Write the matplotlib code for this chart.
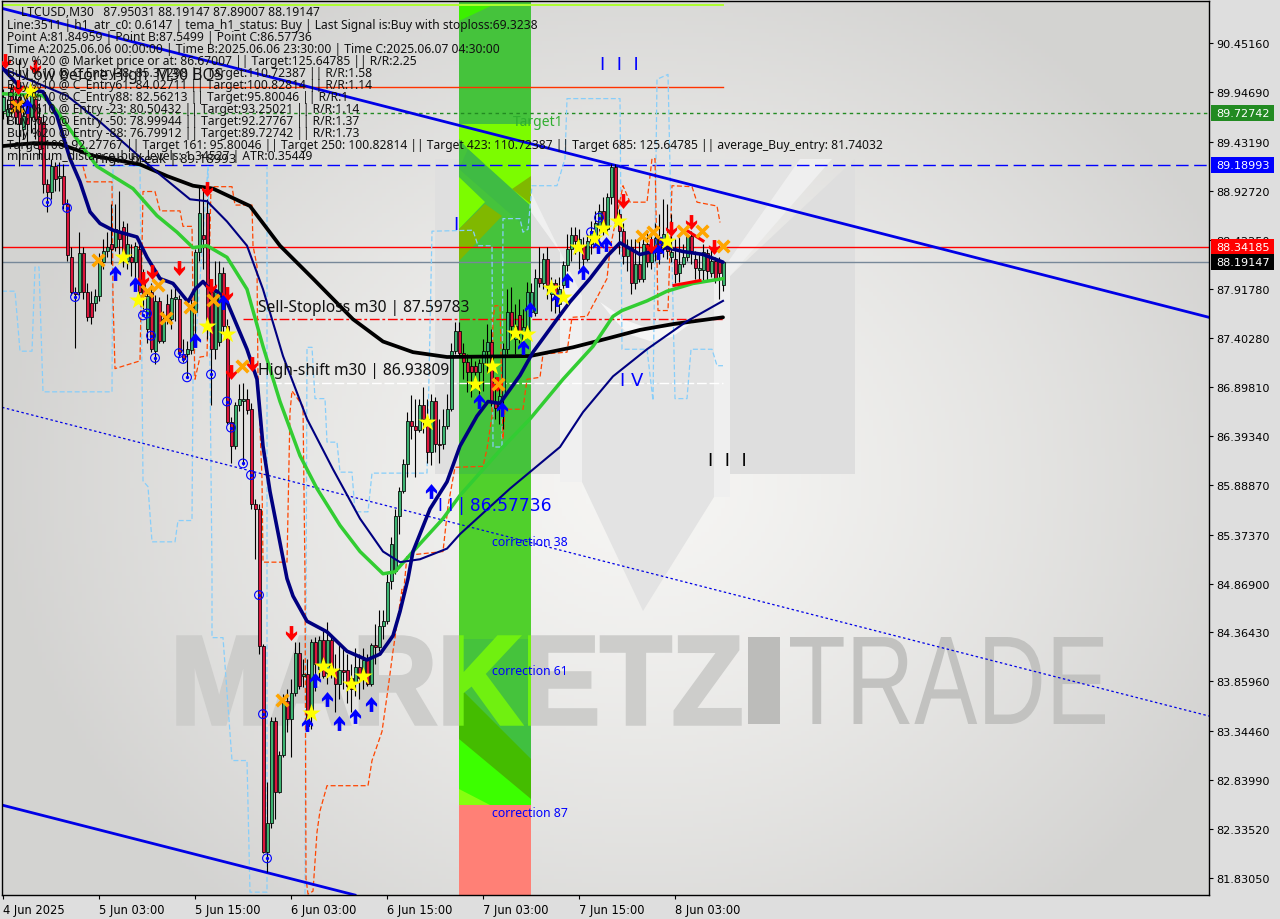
import numpy as np
import matplotlib
matplotlib.use("Agg")
import matplotlib.pyplot as plt
from matplotlib.patches import Rectangle, Polygon, PathPatch
from matplotlib.path import Path
from matplotlib.textpath import TextPath
from matplotlib.font_manager import FontProperties
from matplotlib.transforms import Affine2D

# ---------- price data (30 minute bars) ----------
opens = [89.75,89.70,89.98,89.88,89.90,89.57,89.83,89.69,89.88,89.69,
 89.64,89.00,88.92,89.18,89.06,89.08,88.79,88.24,87.88,87.88,
 88.28,87.88,87.77,87.77,87.84,88.19,88.31,88.38,88.35,88.51,
 88.55,88.20,88.24,88.19,88.33,87.97,87.50,87.88,87.27,87.79,
 87.38,87.76,87.60,87.81,87.81,87.24,87.24,87.28,87.68,88.30,
 88.47,88.70,87.88,87.29,87.37,88.08,87.53,86.54,86.29,86.71,
 86.76,86.78,86.67,85.69,85.64,84.22,82.10,82.39,83.45,82.72,
 83.10,83.66,83.47,83.74,84.15,83.91,83.93,83.54,84.27,83.99,
 84.29,83.94,84.29,83.99,83.83,83.98,83.98,83.89,83.85,84.01,
 83.89,84.08,83.83,84.23,84.21,84.43,84.48,84.90,85.00,85.57,
 85.83,86.10,86.55,86.50,86.46,86.71,86.57,86.23,86.76,86.31,
 86.31,86.50,86.67,87.27,87.48,87.25,87.16,87.12,87.12,87.06,
 87.15,87.27,87.37,86.75,86.68,86.81,87.29,87.68,87.40,87.64,
 87.40,87.50,87.68,87.66,88.03,87.97,88.22,87.86,87.97,87.76,
 87.95,88.16,88.33,88.47,88.33,88.36,88.22,88.38,88.43,88.55,
 88.72,88.53,88.86,89.17,88.69,88.51,88.25,88.35,87.97,88.17,
 88.02,88.38,88.19,88.30,88.44,88.38,88.43,88.24,88.22,88.08,
 88.17,88.24,88.46,88.22,88.11,88.11,88.28,88.08,88.20,88.19,87.95]
highs = [89.98,89.88,90.03,89.96,90.29,89.83,89.98,90.03,89.98,89.83,
 89.72,89.05,89.26,89.23,89.23,89.20,88.84,88.35,87.93,88.50,
 88.35,87.97,87.89,87.91,88.28,88.43,88.50,88.79,88.79,88.93,
 88.62,88.59,88.38,88.40,88.38,88.12,87.91,87.97,87.85,87.83,
 87.69,87.86,87.91,87.93,87.85,87.40,87.38,87.81,88.33,88.98,
 88.98,88.84,87.97,88.20,88.20,88.14,87.60,86.59,86.75,86.93,
 86.94,86.88,86.73,85.74,85.69,84.24,82.82,83.49,83.49,83.14,
 83.73,83.78,83.88,84.27,84.27,84.09,84.09,84.30,84.32,84.33,
 84.38,84.47,84.35,84.14,84.25,84.20,84.14,84.04,84.20,84.14,
 84.20,84.14,84.25,84.45,84.60,84.60,84.97,85.35,85.64,85.87,
 86.16,86.64,86.82,86.78,86.78,86.90,86.78,86.83,86.80,86.57,
 86.67,86.83,87.35,87.57,87.57,87.35,87.24,87.21,87.17,87.19,
 87.40,87.55,87.50,87.00,86.93,87.35,87.91,87.93,87.76,87.81,
 87.71,87.99,87.97,88.12,88.35,88.28,88.35,88.04,88.02,88.04,
 88.20,88.48,88.55,88.55,88.53,88.45,88.48,88.62,88.72,88.79,
 88.86,88.90,89.20,89.20,88.74,88.59,88.43,88.43,88.43,88.43,
 88.45,88.51,88.51,88.59,88.69,88.84,88.79,88.69,88.43,88.45,
 88.38,88.48,88.51,88.31,88.28,88.38,88.33,88.33,88.24,88.24,88.19]
lows = [89.67,89.62,89.69,89.62,89.18,89.46,89.36,89.52,89.46,89.26,
 88.90,88.71,88.84,88.93,88.93,88.74,88.20,87.85,87.30,87.85,
 87.81,87.58,87.55,87.69,87.79,88.12,88.24,88.17,88.31,88.27,
 88.14,88.12,88.05,88.02,87.81,87.71,87.35,87.26,87.14,87.35,
 87.35,87.55,87.50,87.58,87.21,87.16,87.00,87.24,87.45,88.20,
 88.12,87.40,86.71,87.19,87.32,87.45,86.52,86.11,86.26,86.65,
 86.09,86.62,85.64,85.12,84.14,82.08,81.89,82.34,82.44,82.70,
 83.08,83.34,83.08,83.71,83.78,83.80,83.35,83.37,83.76,83.89,
 83.89,83.83,83.89,83.54,83.68,83.78,83.63,83.54,83.71,83.68,
 83.78,83.81,83.81,84.04,84.17,84.30,84.45,84.81,84.97,85.38,
 85.80,85.97,86.36,85.97,86.44,86.42,86.11,86.09,86.23,86.11,
 86.26,86.47,86.65,87.24,87.21,86.98,86.85,86.80,86.95,86.83,
 86.86,87.04,86.70,86.57,86.52,86.47,87.24,87.40,87.24,87.35,
 87.35,87.47,87.62,87.63,87.93,87.91,87.81,87.69,87.66,87.66,
 87.91,88.10,88.20,88.27,88.12,88.10,88.20,88.27,88.38,88.43,
 88.47,88.51,88.79,88.59,88.27,88.17,88.10,87.86,87.91,87.99,
 87.99,88.14,88.12,88.20,88.17,88.24,88.22,88.19,87.97,87.99,
 88.14,88.20,88.17,88.02,87.99,88.00,88.00,88.04,87.97,87.81,87.89]
closes = [89.90,89.77,89.77,89.69,89.62,89.70,89.62,89.93,89.67,89.36,
 89.00,88.92,89.18,89.05,89.08,88.79,88.26,87.88,87.86,88.28,
 87.88,87.62,87.62,87.84,88.19,88.31,88.35,88.33,88.53,88.43,
 88.22,88.38,88.19,88.36,87.88,87.84,87.84,87.29,87.79,87.38,
 87.60,87.60,87.82,87.83,87.26,87.19,87.29,87.74,88.30,88.70,
 88.43,87.53,87.29,87.88,88.08,87.53,86.54,86.29,86.71,86.78,
 86.78,86.66,85.69,85.64,84.22,82.10,82.39,83.45,82.72,83.10,
 83.66,83.47,83.74,84.15,83.81,83.93,83.40,84.27,84.04,84.29,
 83.91,84.29,83.99,83.83,83.98,83.96,83.81,83.78,84.01,83.89,
 84.08,83.83,84.23,84.21,84.43,84.48,84.89,85.28,85.57,85.83,
 86.10,86.55,86.50,86.46,86.71,86.57,86.23,86.76,86.31,86.30,
 86.50,86.67,87.27,87.48,87.25,87.16,87.05,87.05,87.06,87.15,
 87.27,87.37,86.75,86.68,86.81,87.29,87.68,87.53,87.53,87.48,
 87.52,87.88,87.88,88.03,87.97,88.22,87.95,87.97,87.81,87.91,
 88.16,88.33,88.47,88.41,88.43,88.22,88.41,88.51,88.59,88.72,
 88.53,88.86,89.17,88.64,88.51,88.25,88.35,87.97,88.17,88.02,
 88.38,88.19,88.30,88.44,88.28,88.48,88.31,88.30,88.07,88.17,
 88.24,88.46,88.31,88.13,88.13,88.30,88.10,88.20,88.02,88.08,88.19]

# ---------- indicator lines ----------
tema_x = [0,4.25,10,13.5,16.75,19.25,21.75,24.25,27.5,33.5,36,39.25,42.5,46.25,48,50,51.25,53.5,56,61,63.5,65,66.75,71,72.5,76,81,86,91,94.25,97.5,99.25,101.25,102.5,106.75,111,114.25,118.5,121.25,124.25,129.25,132.5,138.5,141.75,146.75,151,154.25,159.25,162.5,166,170,175,180]
tema_y = [90.19,90.00,89.95,89.70,89.26,89.02,88.71,88.59,88.52,88.45,88.24,88.02,87.97,87.78,87.91,87.99,87.93,87.89,87.78,87.29,86.98,86.29,85.82,84.92,84.74,84.48,84.37,84.17,84.08,84.14,84.33,84.58,84.92,85.20,85.64,85.92,86.29,86.60,86.75,86.73,87.02,87.26,87.60,87.78,88.02,88.25,88.39,88.27,88.30,88.34,88.30,88.27,88.19]
ma_green_x = [0,10,13.5,18.5,23.5,32.5,38.5,43.5,47.5,51,56,61,65,69.25,74.25,78.5,84.25,89.25,95,98,102.5,110,114.25,125,131.75,140,147.5,152.5,154.75,161,166,172.5,180]
ma_green_y = [89.93,89.91,89.75,89.46,89.18,88.95,88.67,88.50,88.34,88.36,88.24,87.91,87.32,86.75,86.19,85.85,85.47,85.20,84.97,84.99,85.20,85.54,85.78,86.28,86.57,86.98,87.32,87.63,87.69,87.79,87.89,87.97,88.02]
ma_black_x = [0,7.75,14.25,22.5,34.25,41,47.5,52.5,61.75,69.25,77.5,87.5,95,102.5,111,131.75,142.5,151,159.25,167.5,180]
ma_black_y = [89.39,89.42,89.41,89.29,89.20,89.08,88.98,88.95,88.77,88.36,88.02,87.60,87.37,87.26,87.21,87.22,87.31,87.40,87.49,87.55,87.62]
ma_thin_x = [0,16,24.25,38.5,46.75,51,56,61,65,70,76,82.5,89.25,95,99.25,104.25,111,114.25,126.75,139.25,145,152.5,161,171,180]
ma_thin_y = [90.19,89.91,89.64,89.12,88.84,88.82,88.61,88.36,87.91,87.22,86.57,86.05,85.54,85.20,85.09,85.12,85.23,85.38,85.85,86.28,86.64,87.01,87.29,87.58,87.79]
step_red_x = [20,21,27.25,27.5,28,34.25,35,38,39.25,44.25,45,47.25,47.5,48,49.25,51,52,57.25,58,62.25,62.5,63.5,63.75,64.75,65,71,71.75,72.25,75,75.5,75.75,76.25,77.5,78.5,79.25,81,91.25,92.25,94.75,96.25,97.5,99.75,100,101,110,111.25,113,120,121,122.25,122.5,123,124.25,125,125.5,130,131,134.25,135,141,142.25,146,151,151.75,155,156.75,161,162.25,163,163.75,166.25,167.25,172.25,173.5,178.5,179.25]
step_red_y = [89.18,89.02,89.02,87.81,87.09,87.17,88.92,88.92,88.72,88.72,88.56,88.56,87.81,86.98,87.21,87.22,88.97,88.97,88.78,88.78,88.36,88.15,86.98,85.95,85.09,85.09,86.64,86.86,86.70,84.95,81.82,81.66,81.69,82.30,82.52,82.78,82.78,83.04,83.34,83.78,84.17,84.81,84.71,85.16,85.20,85.67,86.07,86.08,86.26,86.60,87.60,87.74,87.74,86.36,86.67,86.67,86.98,87.00,87.24,87.26,87.62,87.63,88.02,88.33,88.98,88.81,88.81,89.26,89.26,87.69,87.69,88.98,88.97,88.81,88.77,88.60]
step_blue_x = [-0.25,3,4.25,7.25,8,9,10,27.25,27.5,34.25,35,36.25,37.25,43,43.75,47.25,47.5,51.25,52.25,52.25,55,57.25,61,61.75,66,66,np.nan,75.5,76,77.25,78,80.5,81,83.5,84.25,87.25,88,91.25,92.25,106,107.25,117.5,118.75,122.25,122.5,124.75,125,129.25,130,131.25,132.25,138.5,140.5,141,154.25,154.75,161,162.5,163.5,166.25,168,171,172,177.25,178.5,180]
step_blue_y = [87.89,87.89,87.27,87.27,88.14,88.14,86.85,86.85,89.18,89.18,85.93,85.87,85.30,85.30,85.52,85.52,86.98,89.18,84.99,84.31,84.31,83.04,83.04,81.68,81.68,89.18,np.nan,81.66,87.31,87.31,86.78,86.78,86.33,86.33,86.02,86.02,85.61,85.61,86.01,86.01,88.51,88.52,88.36,88.36,86.28,86.28,88.64,88.64,88.50,88.53,88.98,88.98,89.26,89.88,89.88,87.29,87.29,86.76,90.08,90.13,86.78,86.78,87.29,87.29,87.12,87.12]

# trend lines
trend_up_x, trend_up_y = [0, 301.5], [90.81, 87.62]
trend_low_x, trend_low_y = [-0.25, 88], [82.58, 81.65]
trend_dot_x, trend_dot_y = [-0.25, 301.5], [86.69, 83.50]
wedge1_x, wedge1_y = [167.75, 174.25], [87.95, 88.00]
wedge2_x, wedge2_y = [171.25, 175], [88.51, 88.41]

# levels
level_target = 89.72742
level_high = 89.18993
level_red = 88.34185
level_last = 88.19147
level_sl = 87.59783
level_shift = 86.93809
level_top = 90.85
level_upper = 90.00

# signal markers
star_x = [6.75,30,33.75,51,56,77,80,82,87,90,106,118,122.25,128,131,137,140,143.75,147.75,150,153.75,166]
star_y = [89.96,88.24,87.80,87.53,87.45,83.53,84.02,83.97,83.83,83.91,86.54,86.93,87.12,87.46,87.45,87.92,87.83,88.35,88.44,88.54,88.62,88.41]
cross_x = [3.5,6.75,23.75,36,38.75,40.75,46.75,52.5,59.75,69.75,123.75,159.75,162.5,170,174.75,180]
cross_y = [89.80,89.95,88.21,87.89,87.95,87.61,87.73,87.80,87.12,83.67,86.93,88.46,88.50,88.51,88.51,88.36]
down_x = [0.5,3.75,8,35,37.25,44,51,52,56,57,62.25,72,123.5,155,162,167,172,177.75]
down_y = [90.27,90.00,90.21,88.02,88.09,88.13,88.95,87.94,87.86,87.06,87.14,84.36,86.93,88.82,88.36,88.53,88.60,88.35]
up_x = [6,28,33,48,55,76,78,81,84,88,92,107,119,124.75,130,131.75,138.5,141,145,148.75,150.75,163.75]
up_y = [89.80,88.08,87.96,87.39,87.78,83.42,83.87,83.68,83.43,83.50,83.62,85.83,86.76,86.67,87.31,87.71,87.81,88.01,88.09,88.36,88.38,88.30]
circle_x = [11,16,18,35,36,37,38,44,45,46,52,56,57,60,62,64,65,66,147,149,164.25]
circle_y = [88.81,88.75,87.83,87.64,87.66,87.43,87.20,87.25,87.19,87.00,87.03,86.75,86.48,86.11,85.99,84.75,83.52,82.03,88.50,88.65,88.40]

# axis labels
ytick_vals = [90.45160,89.94690,89.43190,88.92720,88.42250,87.91780,87.40280,86.89810,86.39340,85.88870,85.37370,84.86900,84.36430,83.85960,83.34460,82.83990,82.33520,81.83050]
xtick_bars = [0,24,48,72,96,120,144,168]
xtick_labels = ["4 Jun 2025","5 Jun 03:00","5 Jun 15:00","6 Jun 03:00","6 Jun 15:00","7 Jun 03:00","7 Jun 15:00","8 Jun 03:00"]

info_lines = [
 "Line:3511 | h1_atr_c0: 0.6147 | tema_h1_status: Buy | Last Signal is:Buy with stoploss:69.3238",
 "Point A:81.84959 | Point B:87.5499 | Point C:86.57736",
 "Time A:2025.06.06 00:00:00 | Time B:2025.06.06 23:30:00 | Time C:2025.06.07 04:30:00",
 "Buy %20 @ Market price or at: 86.67007 || Target:125.64785 || R/R:2.25",
 "Buy %10 @ C_Entry38: 85.37298 || Target:110.72387 || R/R:1.58",
 "Buy %10 @ C_Entry61: 84.02711 || Target:100.82814 || R/R:1.14",
 "Buy %10 @ C_Entry88: 82.56213 || Target:95.80046 || R/R:1",
 "Buy %10 @ Entry -23: 80.50432 || Target:93.25021 || R/R:1.14",
 "Buy %20 @ Entry -50: 78.99944 || Target:92.27767 || R/R:1.37",
 "Buy %20 @ Entry -88: 76.79912 || Target:89.72742 || R/R:1.73",
 "Target100: 92.27767 || Target 161: 95.80046 || Target 250: 100.82814 || Target 423: 110.72387 || Target 685: 125.64785 || average_Buy_entry: 81.74032",
 "minimum_distance_buy_levels: 1.34527 | ATR:0.35449",
]

# ---------- figure ----------
W, H = 1280, 920
fig = plt.figure(figsize=(W/100, H/100), dpi=100, facecolor="#dedede")
L, R, T, B = 2, 1209, 2, 896
ax = fig.add_axes([L/W, 1-B/H, (R-L)/W, (B-T)/H])
XMIN, XMAX, YMIN, YMAX = -0.25, 301.5, 81.6506, 90.8887

# screen-pixel transform for the decorative backdrop image parts
deco = Affine2D().scale(1, -1).translate(0, H)
def poly(pts, color, z=0.5, **kw):
    p = Polygon(pts, closed=True, facecolor=color, edgecolor="none", transform=deco, zorder=z, **kw)
    ax.add_patch(p)
    return p

def fitted_glyphs(s, x0, x1, ytop, ybot, color, z, weight="normal", stroke=0.0):
    fp = FontProperties(family="Liberation Sans", weight=weight)
    tp = TextPath((0, 0), s, size=100, prop=fp)
    e = tp.get_extents()
    tr = (Affine2D().translate(-e.x0, -e.y0)
          .scale((x1-x0)/e.width, -(ybot-ytop)/e.height)
          .translate(x0, ybot) + deco)
    p = PathPatch(tp, facecolor=color, edgecolor=color if stroke else "none", linewidth=stroke, transform=tr, zorder=z)
    ax.add_patch(p)
    return p

# backdrop radial gradient
yy, xx = np.mgrid[T:B:4, L:R:4]
r = np.clip(np.hypot((xx-640)/640, (yy-480)/560), 0, 1)
bg = (0.965 - 0.135*r**1.3)
rgb = np.dstack([bg, bg*0.998, bg*0.99])
ax.imshow(rgb, extent=[0,1,0,1], transform=ax.transAxes, aspect="auto", zorder=0, origin="upper")

# logo backdrop
poly([(435,160),(493,160),(560,253),(560,475),(435,475)], "#dfdfdf", 0.3)
poly([(730,277),(855,160),(855,475),(730,475)], "#dedede", 0.3)
poly([(515,160),(800,160),(714,283),(714,498),(643,612),(582,483),(582,297)], "#e3e3e3", 0.3)
poly([(493,160),(515,160),(582,297),(582,483),(560,483),(560,253)], "#f0f0f0", 0.31)
poly([(800,160),(832,160),(730,277),(730,498),(714,498),(714,283)], "#efefef", 0.31)
poly([(600,303),(612,318),(628,335),(650,342),(672,338),(690,325),(700,312),(692,325),(672,328),(650,330),(628,322)], "#f6f6f6", 0.33)

fitted_glyphs("MARKETZ", 178, 740, 638, 725, "#cdcdcb", 0.6, "bold", stroke=2.5)
ax.add_patch(Rectangle((748,638),32,87, facecolor="#bcbcba", edgecolor="none", transform=deco, zorder=0.6))
fitted_glyphs("TRADE", 790, 1105, 638, 725, "#c2c2c0", 0.6)

# green zone
zone = Rectangle((459,3),72,803, facecolor="#45c33c", edgecolor="none", transform=deco, zorder=1)
ax.add_patch(zone)
poly([(459,475),(531,475),(531,640),(459,640)], "#50d02c", 1.02)
poly([(459,725),(531,725),(531,775),(459,730)], "#40c040", 1.03)
poly([(459,5),(495,5),(459,22)], "#3cf000", 1.05)
poly([(459,125),(531,125),(531,210),(468,150),(459,140)], "#7cfc00", 1.1)
poly([(531,177),(512,190),(531,205)], "#80b800", 1.12)
poly([(459,170),(468,150),(531,207),(531,233)], "#3fbb44", 1.13)
poly([(459,178),(485,203),(459,230)], "#7cfc00", 1.14)
poly([(459,230),(485,205),(502,217),(459,262)], "#80b800", 1.14)
poly([(459,688),(531,760),(531,802),(459,745)], "#44bc00", 1.2)
poly([(459,740),(531,800),(531,806),(459,806)], "#3cff00", 1.21)
poly([(459,790),(490,806),(459,806)], "#86ff10", 1.22)
ax.add_patch(Rectangle((459,806),72,90, facecolor="#ff8076", edgecolor="none", transform=deco, zorder=1.3))
k_g = fitted_glyphs("MARKETZ", 178, 740, 638, 725, "#70f010", 1.25, "bold", stroke=2.5)
k_g.set_clip_path(zone)

# levels
LW = 1.0
ax.axhline(level_target, color="#228b22", lw=LW, ls=(0,(2.5,2.5)), zorder=2)
ax.axhline(level_high, color="#0000ff", lw=LW, ls=(0,(9,4)), zorder=2)
ax.axhline(level_red, color="#ff0000", lw=LW, zorder=2)
ax.axhline(level_last, color="#778899", lw=LW, zorder=2)
ax.plot([60,180],[level_sl,level_sl], color="#ff0000", lw=LW, ls=(0,(7,2,2,2)), zorder=2)
ax.plot([64,180],[level_shift,level_shift], color="#ffffff", lw=LW, ls=(0,(7,2)), zorder=2)
ax.plot([0,180],[level_top,level_top], color="#adff2f", lw=1.4, zorder=2)
ax.plot([0,180],[level_upper,level_upper], color="#ff3300", lw=LW, zorder=2)

# step lines
ax.plot(step_blue_x, step_blue_y, color="#87cefa", lw=0.9, ls=(0,(4,2)), zorder=2.2)
ax.plot(step_red_x, step_red_y, color="#ff4500", lw=0.9, ls=(0,(4,2)), zorder=2.2)

# trend lines
ax.plot(trend_up_x, trend_up_y, color="#0000e6", lw=2.0, zorder=2.5)
ax.plot(trend_low_x, trend_low_y, color="#0000e6", lw=2.0, zorder=2.5)
ax.plot(trend_dot_x, trend_dot_y, color="#0000e6", lw=0.9, ls=(0,(2,2)), zorder=2.5)

# candles
o, h, l, c = map(np.array, (opens, highs, lows, closes))
idx = np.arange(len(o))
ax.vlines(idx, l, h, color="black", lw=0.8, zorder=3)
cols = np.where(c >= o, "#3cb371", "#dc143c")
ax.bar(idx, np.maximum(np.abs(c-o), 0.01), bottom=np.minimum(o, c), width=0.75, color=cols, edgecolor="black", linewidth=0.55, zorder=3.1)

# moving averages
ax.plot(ma_black_x, ma_black_y, color="#000000", lw=2.7, zorder=4, solid_capstyle="round")
ax.plot(ma_green_x, ma_green_y, color="#32cd32", lw=2.5, zorder=4.1, solid_capstyle="round")
ax.plot(ma_thin_x, ma_thin_y, color="#000080", lw=1.5, zorder=4.2)
ax.plot(tema_x, tema_y, color="#000080", lw=2.6, zorder=4.3, solid_capstyle="round")
ax.plot(wedge1_x, wedge1_y, color="#ff0000", lw=2.2, zorder=4.4)
ax.plot(wedge2_x, wedge2_y, color="#ff0000", lw=2.2, zorder=4.4)

# arrow marker paths
down_path = Path([(-.24,1),(.24,1),(.24,-.05),(.75,.3),(.75,-.1),(0,-1),(-.75,-.1),(-.75,.3),(-.24,-.05),(-.24,1)], closed=True)
up_path = Path([(-.24,-1),(.24,-1),(.24,.05),(.75,-.3),(.75,.1),(0,1),(-.75,.1),(-.75,-.3),(-.24,.05),(-.24,-1)], closed=True)
ax.scatter(circle_x, circle_y, s=40, facecolors="none", edgecolors="#0000ff", linewidths=0.8, zorder=5)
ax.scatter(circle_x, circle_y, s=2, color="#0000ff", zorder=5)
ax.scatter(down_x, down_y, s=115, marker=down_path, color="#ff0000", linewidths=0, zorder=5.2)
ax.scatter(up_x, up_y, s=115, marker=up_path, color="#0000ff", linewidths=0, zorder=5.2)
ax.scatter(star_x, star_y, s=190, marker="*", color="#ffff00", linewidths=0, zorder=5.4)
ax.scatter(cross_x, cross_y, s=70, marker="x", color="#ffa500", linewidths=2.6, zorder=5.3)

# axes
ax.set_xlim(XMIN, XMAX)
ax.set_ylim(YMIN, YMAX)
ax.yaxis.tick_right()
ax.set_yticks(ytick_vals)
ax.set_yticklabels([f"{v:.5f}" for v in ytick_vals], fontsize=8.1, fontfamily="DejaVu Sans", color="black")
ax.set_xticks(xtick_bars)
ax.set_xticklabels(xtick_labels, fontsize=8.3, fontfamily="DejaVu Sans", ha="left", color="black")
ax.tick_params(axis="y", length=3, width=0.8, pad=2.5)
ax.tick_params(axis="x", length=3, width=0.8, pad=3)
for s in ax.spines.values():
    s.set_linewidth(1.0); s.set_color("black")

# price boxes
boxes = [(level_target,"#228b22","#ffffff"),(level_high,"#0000ff","#ffffff"),(level_red,"#ff0000","#ffffff"),(level_last,"#000000","#ffffff")]
for v, col, tc in boxes:
    ypx = 2 + (YMAX - v)/(YMAX-YMIN)*(B-T)
    fig.add_artist(Rectangle((1211/W, 1-(ypx+8)/H), 63/W, 16/H, transform=fig.transFigure, facecolor=col, edgecolor="none", zorder=5))
    fig.text(1216/W, 1-ypx/H, f"{v:.5f}", color=tc, fontsize=8.1, va="center", ha="left", fontfamily="DejaVu Sans", zorder=6)

# info texts
def label(x, y, s, size=8.7, color="#111111", family="Noto Sans", **kw):
    fig.text(x/W, 1-y/H, s, fontsize=size, color=color, va="center", ha="left", fontfamily=family, zorder=7, **kw)

label(21, 12, "LTCUSD,M30   87.95031 88.19147 87.89007 88.19147")
y0 = 25
for i, s in enumerate(info_lines):
    label(7, y0 + i*12, s)
label(25, 76, "Low before High  M30 BOS", size=11.3)
label(95, 160, "High_break | 89.18993", size=9.5)
label(258, 308, "Sell-Stoploss m30 | 87.59783", size=11.2)
label(258, 371, "High-shift m30 | 86.93809", size=11.2)
label(513, 122, "Target1", size=10, color="#2fae2f")
lab_family = "DejaVu Sans"
label(600, 65, "I  I  I", size=13, color="#0000ff", family=lab_family)
label(453, 225, "I", size=13, color="#0000ff", family=lab_family)
label(620, 381, "I V", size=13, color="#0000ff", family=lab_family)
label(708, 461, "I  I  I", size=13, color="#000000", family=lab_family)
label(438, 506, "I I | 86.57736", size=12.3, color="#0000ff", family=lab_family)
label(492, 542, "correction 38", size=8.8, color="#0000ff")
label(492, 672, "correction 61", size=8.8, color="#0000ff")
label(492, 814, "correction 87", size=8.8, color="#0000ff")

fig.savefig("out.png", dpi=100, facecolor=fig.get_facecolor())
